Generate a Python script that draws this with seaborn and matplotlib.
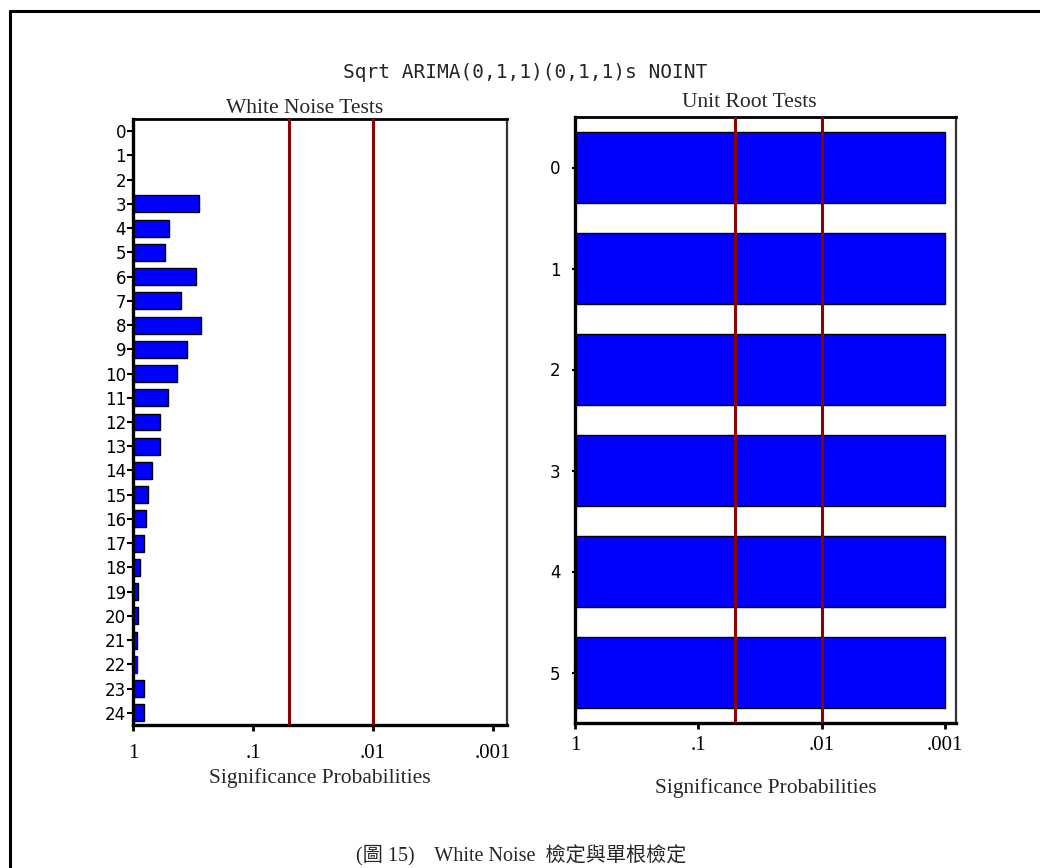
import numpy as np
import pandas as pd
import matplotlib
matplotlib.use("Agg")
import matplotlib.pyplot as plt
from matplotlib.lines import Line2D
import seaborn as sns

sns.set_theme(style="white")
plt.rcParams["font.family"] = ["Liberation Serif", "Noto Sans CJK TC", "DejaVu Sans"]

TITLE = "Sqrt ARIMA(0,1,1)(0,1,1)s NOINT"
CAPTION = "(圖 15)    White Noise  檢定與單根檢定"

# white noise test p-values per lag (lags 0-2 have no test)
wn_lags = [str(i) for i in range(25)]
wn_pvalues = [np.nan, np.nan, np.nan, 0.28, 0.50, 0.54, 0.30, 0.40, 0.27,
              0.355, 0.43, 0.51, 0.60, 0.60, 0.69, 0.75, 0.78, 0.81, 0.87,
              0.91, 0.91, 0.93, 0.92, 0.81, 0.81]

# unit root test p-values (all below .001, shown clipped)
ur_lags = ["0", "1", "2", "3", "4", "5"]
ur_pvalues = [0.001, 0.001, 0.001, 0.001, 0.001, 0.001]

sig_levels = [0.05, 0.01]
tick_probs = [1, 0.1, 0.01, 0.001]
tick_labels = ["1", ".1", ".01", ".001"]

BLUE = "#0000ff"
DARKRED = "#8f0000"
W, H = 1040, 868


def frame(px_left, px_top, px_right, px_bottom):
    return [px_left / W, 1 - px_bottom / H, (px_right - px_left) / W, (px_bottom - px_top) / H]


def style_axes(ax, xmax):
    ax.set_xlim(0, xmax)
    ax.set_xticks(-np.log10(tick_probs))
    ax.set_xticklabels(tick_labels)
    ax.set_ylabel("")
    for side in ["left", "bottom"]:
        ax.spines[side].set_linewidth(2.4)
        ax.spines[side].set_color("black")
    ax.spines["top"].set_linewidth(2.0)
    ax.spines["top"].set_color("black")
    ax.spines["right"].set_linewidth(1.6)
    ax.spines["right"].set_color("#333333")
    for p in sig_levels:
        ax.axvline(-np.log10(p), color=DARKRED, lw=2.2, zorder=5)


fig = plt.figure(figsize=(W / 100, H / 100), dpi=100)

# ---- White Noise Tests
wn = pd.DataFrame({"lag": wn_lags, "p": wn_pvalues}).dropna()
wn["logp"] = -np.log10(wn["p"])
ax1 = fig.add_axes(frame(133, 119, 507, 725))
sns.barplot(data=wn, x="logp", y="lag", order=wn_lags, orient="h", color=BLUE,
            saturation=1, edgecolor="black", linewidth=1, width=0.7, ax=ax1)
# lag 22 bar is drawn without an outline in the original
for bar in ax1.patches:
    if abs(bar.get_y() + bar.get_height() / 2 - 22) < 0.1:
        bar.set_edgecolor(BLUE)
style_axes(ax1, 3.117)
ax1.tick_params(axis="y", left=True, length=4, width=1.5, pad=1, labelsize=12,
                labelfontfamily="DejaVu Sans", colors="black")
ax1.tick_params(axis="x", bottom=True, length=4, width=2, pad=10, labelsize=15,
                colors="black")
ax1.set_xlabel("Significance Probabilities", fontsize=15.5, labelpad=3)
ax1.set_title("White Noise Tests", fontsize=15.5, x=0.4586, pad=4)

# ---- Unit Root Tests
ur = pd.DataFrame({"lag": ur_lags, "p": ur_pvalues})
ur["logp"] = -np.log10(ur["p"])
ax2 = fig.add_axes(frame(575, 117, 956, 723))
sns.barplot(data=ur, x="logp", y="lag", order=ur_lags, orient="h", color=BLUE,
            saturation=1, edgecolor="black", linewidth=1, width=0.7, ax=ax2)
style_axes(ax2, 3.09)
ax2.tick_params(axis="y", left=True, length=2.5, width=1.5, pad=8, labelsize=12,
                labelfontfamily="DejaVu Sans", colors="black")
ax2.tick_params(axis="x", bottom=True, length=4, width=2, pad=5, labelsize=15,
                colors="black")
ax2.set_xlabel("Significance Probabilities", fontsize=15.5, labelpad=17)
ax2.set_title("Unit Root Tests", fontsize=15.5, x=0.4567, pad=7)

# overall title and caption
fig.text(525.5 / W, 1 - 73 / H, TITLE, ha="center", va="center",
         fontsize=14, family="DejaVu Sans Mono")
fig.text(521 / W, 1 - 856 / H, CAPTION, ha="center", va="center",
         fontsize=14.5, family=["Liberation Serif", "Noto Sans CJK TC"])

# page border (top and left edges)
fig.add_artist(Line2D([10 / W, 1], [1 - 11 / H, 1 - 11 / H], transform=fig.transFigure,
                      color="black", lw=2.2))
fig.add_artist(Line2D([10 / W, 10 / W], [1 - 11 / H, 0], transform=fig.transFigure,
                      color="black", lw=2.2))

fig.savefig("out.png", dpi=100)
